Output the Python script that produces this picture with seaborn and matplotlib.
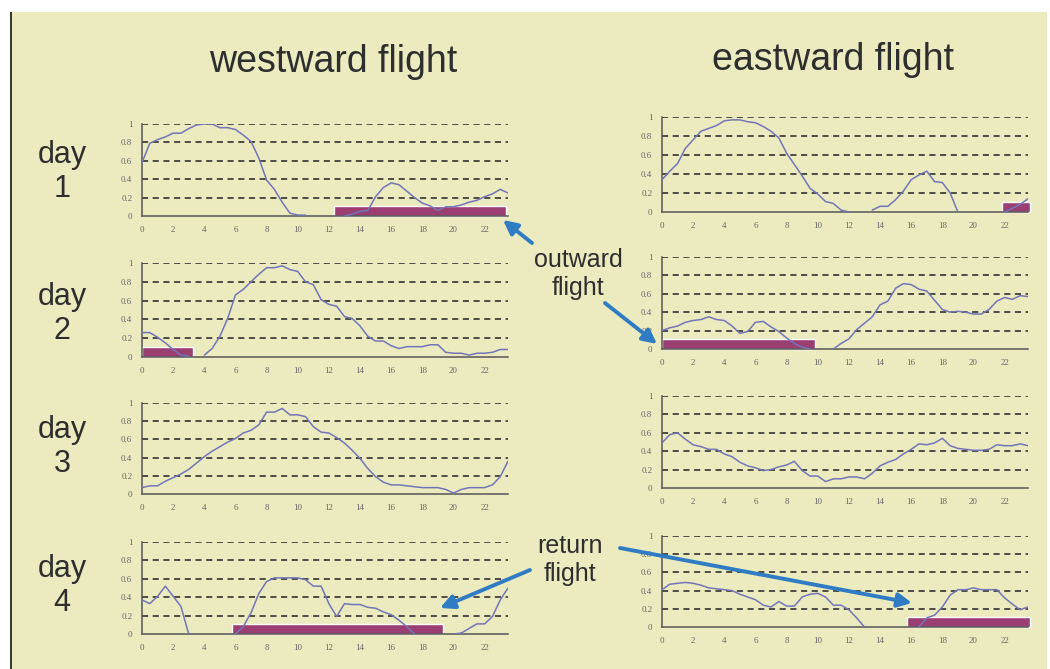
import numpy as np
import pandas as pd
import matplotlib
matplotlib.use("Agg")
import matplotlib.pyplot as plt
from matplotlib.patches import Rectangle
import seaborn as sns

# hour of day, half-hour steps
hours = np.arange(0, 24, 0.5)

# activity curves (None = no line drawn)
west_day1 = [0.58, 0.79, 0.83, 0.86, 0.90, 0.90, 0.95, 0.99, 1.00, 1.00, 0.96, 0.96,
             0.94, 0.88, 0.81, 0.63, 0.39, 0.29, 0.15, 0.03, 0.01, 0.01, None, None,
             None, None, 0.00, 0.02, 0.05, 0.06, 0.21, 0.31, 0.36, 0.34, 0.27, 0.20,
             0.14, 0.11, 0.06, 0.10, 0.10, 0.12, 0.15, 0.17, 0.21, 0.24, 0.29, 0.25]
west_day2 = [0.26, 0.26, 0.21, 0.15, 0.08, 0.02, 0.01, None, 0.02, 0.09, 0.22, 0.41,
             0.66, 0.72, 0.80, 0.88, 0.95, 0.95, 0.97, 0.93, 0.91, 0.80, 0.77, 0.61,
             0.56, 0.54, 0.43, 0.41, 0.33, 0.22, 0.17, 0.17, 0.12, 0.09, 0.11, 0.11,
             0.11, 0.13, 0.13, 0.05, 0.04, 0.04, 0.02, 0.04, 0.04, 0.05, 0.08, 0.08]
west_day3 = [0.07, 0.09, 0.09, 0.14, 0.18, 0.22, 0.27, 0.34, 0.41, 0.47, 0.52, 0.57,
             0.61, 0.67, 0.70, 0.76, 0.90, 0.90, 0.94, 0.87, 0.87, 0.85, 0.74, 0.68,
             0.67, 0.62, 0.56, 0.48, 0.39, 0.28, 0.19, 0.13, 0.10, 0.10, 0.09, 0.08,
             0.07, 0.07, 0.07, 0.05, 0.01, 0.05, 0.07, 0.07, 0.07, 0.10, 0.19, 0.36]
west_day4 = [0.37, 0.33, 0.41, 0.52, 0.41, 0.30, 0.00, None, None, None, None, None,
             0.00, 0.08, 0.23, 0.44, 0.57, 0.61, 0.61, 0.61, 0.61, 0.59, 0.52, 0.52,
             0.33, 0.19, 0.33, 0.32, 0.32, 0.29, 0.28, 0.24, 0.21, 0.15, 0.08, 0.00,
             None, None, None, None, 0.00, 0.01, 0.06, 0.11, 0.11, 0.19, 0.37, 0.50]

east_day1 = [0.34, 0.43, 0.51, 0.67, 0.76, 0.85, 0.88, 0.91, 0.96, 0.97, 0.97, 0.95,
             0.94, 0.90, 0.85, 0.78, 0.62, 0.50, 0.38, 0.25, 0.19, 0.11, 0.09, 0.02,
             0.00, None, None, 0.02, 0.06, 0.06, 0.13, 0.22, 0.34, 0.39, 0.43, 0.32,
             0.31, 0.20, 0.00, None, None, None, None, None, 0.00, 0.04, 0.08, 0.14]
east_day2 = [0.20, 0.23, 0.25, 0.29, 0.31, 0.32, 0.35, 0.32, 0.31, 0.25, 0.17, 0.19,
             0.29, 0.30, 0.24, 0.19, 0.12, 0.06, 0.02, 0.00, None, None, 0.00, 0.06,
             0.11, 0.21, 0.28, 0.35, 0.48, 0.52, 0.66, 0.71, 0.70, 0.65, 0.63, 0.53,
             0.43, 0.40, 0.41, 0.40, 0.38, 0.38, 0.43, 0.52, 0.56, 0.54, 0.58, 0.57]
east_day3 = [0.49, 0.58, 0.60, 0.53, 0.47, 0.45, 0.42, 0.42, 0.37, 0.34, 0.28, 0.24,
             0.22, 0.19, 0.20, 0.23, 0.25, 0.29, 0.19, 0.13, 0.13, 0.07, 0.10, 0.10,
             0.12, 0.12, 0.10, 0.16, 0.24, 0.28, 0.31, 0.37, 0.42, 0.48, 0.47, 0.49,
             0.54, 0.46, 0.43, 0.42, 0.41, 0.41, 0.42, 0.47, 0.46, 0.46, 0.48, 0.46]
east_day4 = [0.41, 0.47, 0.48, 0.49, 0.48, 0.46, 0.43, 0.42, 0.41, 0.40, 0.36, 0.33,
             0.30, 0.24, 0.22, 0.28, 0.23, 0.23, 0.33, 0.36, 0.37, 0.33, 0.24, 0.24,
             0.19, 0.10, 0.00, None, None, None, None, None, None, 0.00, 0.10, 0.13,
             0.22, 0.35, 0.41, 0.41, 0.43, 0.41, 0.41, 0.41, 0.32, 0.25, 0.19, 0.22]

# flight windows (start hour, end hour)
west_flights = [(12.3, 23.4), (0.0, 3.3), None, (5.8, 19.3)]
east_flights = [(21.8, 23.6), (0.0, 9.8), None, (15.7, 23.6)]

west_curves = [west_day1, west_day2, west_day3, west_day4]
east_curves = [east_day1, east_day2, east_day3, east_day4]
day_labels = ["day\n1", "day\n2", "day\n3", "day\n4"]

W, H = 1050, 669
BG = "#ECEBC0"
LINE = "#7474B8"
BAR = "#9B3F73"
ARROW = "#2F7BC4"
TXT = "#2E2E2E"

sns.set_theme(style="white")
plt.rcParams["font.family"] = ["Liberation Sans", "DejaVu Sans"]

fig = plt.figure(figsize=(W / 100, H / 100), dpi=100, facecolor="white")
fig.patches.append(Rectangle((11 / W, 0), (1047 - 11) / W, 1 - 12 / H,
                             transform=fig.transFigure, facecolor=BG,
                             edgecolor="none", zorder=-10))
fig.patches.append(Rectangle((10 / W, 0), 2 / W, 1 - 12 / H,
                             transform=fig.transFigure, facecolor="#3A3A30",
                             edgecolor="none", zorder=-9))


def to_long(values):
    rows = []
    seg = 0
    for h, v in zip(hours, values):
        if v is None:
            seg += 1
            continue
        rows.append({"hour": h, "value": v, "seg": seg})
    return pd.DataFrame(rows)


def panel(x0, x1, ytop, ybot, values, flight):
    ax = fig.add_axes([x0 / W, 1 - ybot / H, (x1 - x0) / W, (ybot - ytop) / H])
    ax.set_facecolor("none")
    if flight is not None:
        ax.bar(flight[0], 0.11, width=flight[1] - flight[0], bottom=0,
               align="edge", color=BAR, zorder=2, clip_on=False)
    sns.lineplot(data=to_long(values), x="hour", y="value", units="seg",
                 estimator=None, color=LINE, lw=1.1, ax=ax, zorder=3)
    for g in [0.2, 0.4, 0.6, 0.8, 1.0]:
        ax.axhline(g, color="#222222", lw=1.1, ls=(0, (4, 3)), zorder=1)
    ax.set_xlim(0, 23.5)
    ax.set_ylim(0, 1.0)
    ax.set_xticks(np.arange(0, 24, 2))
    ax.set_xticklabels([str(t) for t in range(0, 24, 2)])
    ax.set_yticks([0, 0.2, 0.4, 0.6, 0.8, 1.0])
    ax.set_yticklabels(["0", "0.2", "0.4", "0.6", "0.8", "1"])
    ax.tick_params(direction="inout", length=6, width=1, colors="#555555",
                   labelsize=6.5, labelcolor="#666666", pad=4)
    for lab in ax.get_xticklabels() + ax.get_yticklabels():
        lab.set_family("Liberation Serif")
    for s in ["top", "right"]:
        ax.spines[s].set_visible(False)
    for s in ["left", "bottom"]:
        ax.spines[s].set_color("#555555")
        ax.spines[s].set_linewidth(1.1)
    ax.set_xlabel("")
    ax.set_ylabel("")
    return ax


left_rows = [(124, 216), (263, 357), (403, 494), (542, 634)]
right_rows = [(117, 212), (257, 349), (396, 488), (536, 627)]

for i in range(4):
    panel(142, 508, left_rows[i][0], left_rows[i][1], west_curves[i], west_flights[i])
    panel(662, 1028, right_rows[i][0], right_rows[i][1], east_curves[i], east_flights[i])

fig.text(333 / W, 1 - 62 / H, "westward flight", ha="center", va="center",
         fontsize=27, color=TXT)
fig.text(833 / W, 1 - 60 / H, "eastward flight", ha="center", va="center",
         fontsize=27, color=TXT)
for lab, yc in zip(day_labels, [172, 314, 447, 586]):
    fig.text(62 / W, 1 - yc / H, lab, ha="center", va="center", fontsize=22,
             color=TXT, linespacing=1.15)

fig.text(578 / W, 1 - 274 / H, "outward\nflight", ha="center", va="center",
         fontsize=18, color=TXT, linespacing=1.25)
fig.text(570 / W, 1 - 560 / H, "return\nflight", ha="center", va="center",
         fontsize=18, color=TXT, linespacing=1.25)

arrows = [((532, 243), (503, 220)), ((605, 303), (657, 344)),
          ((530, 570), (440, 608)), ((620, 548), (912, 603))]
for (sx, sy), (ex, ey) in arrows:
    fig.add_artist(plt.Annotation(
        "", xy=(ex / W, 1 - ey / H), xytext=(sx / W, 1 - sy / H),
        xycoords="figure fraction", textcoords="figure fraction",
        arrowprops=dict(arrowstyle="-|>,head_length=0.7,head_width=0.35",
                        color=ARROW, lw=2.8, shrinkA=0, shrinkB=0)))

fig.savefig("out.png", dpi=100, facecolor="white")
